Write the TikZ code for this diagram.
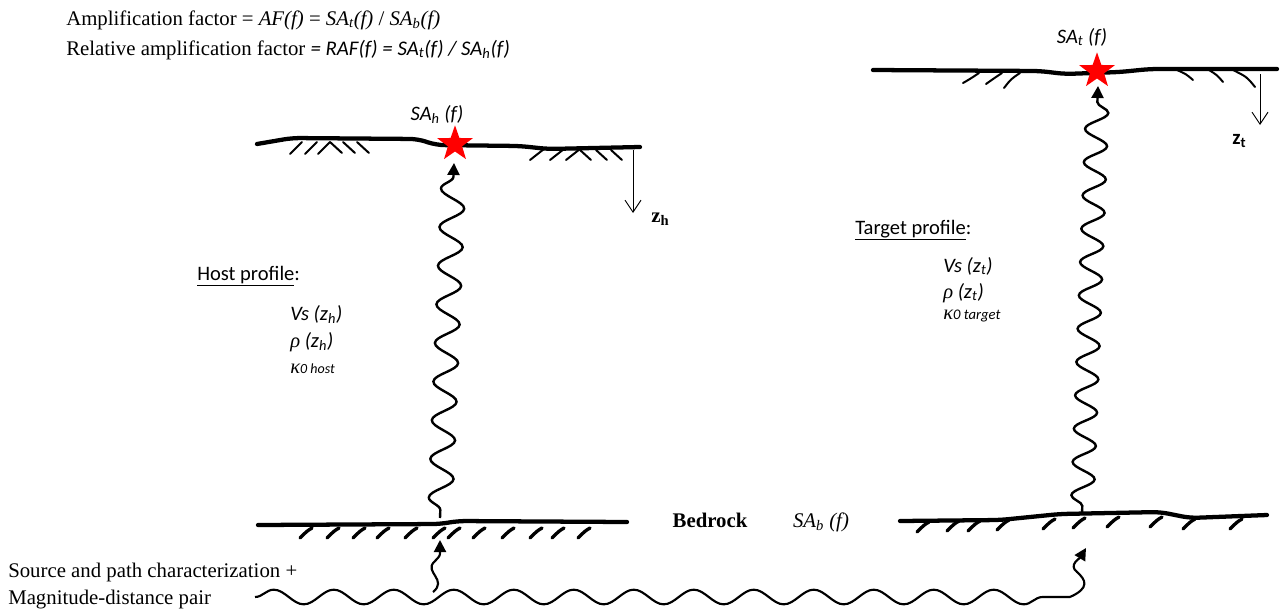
\documentclass[tikz,border=0pt]{standalone}
\usepackage{fontspec}
\setmainfont{Liberation Serif}
\newfontfamily\calfont{Carlito}
\usetikzlibrary{decorations.pathmorphing, shapes.geometric, arrows.meta}
\tikzset{
  ground/.style={line width=3.2pt, line cap=round, line join=round, rounded corners=6pt},
  shatch/.style={line width=1.5pt, line cap=round},
  bhatch/.style={line width=2.5pt, line cap=round},
  wavy/.style={line width=1.8pt, decorate},
  redstar/.style={star, star points=5, star point ratio=2.5, fill=red, draw=none, minimum size=28pt, inner sep=0pt},
  depth/.style={line width=0.7pt, -{Straight Barb[length=9pt, width=12pt, line width=0.7pt]}},
  tip/.style={-{Triangle[length=9pt, width=9pt]}},
  txt/.style={inner sep=0pt, font=\fontsize{15.6}{18}\selectfont},
  cal/.style={inner sep=0pt, font=\fontsize{15.4}{18}\selectfont\calfont\itshape},
}
\begin{document}
\begin{tikzpicture}[x=0.75pt, y=-0.75pt]
\useasboundingbox (0,0) rectangle (1282,615);

% top texts
\node[txt, anchor=base west] (l1) at (66,25) {Amplification factor = \textit{AF(f)} = \textit{SA\textsubscript{t}(f)} / \textit{SA\textsubscript{b}(f)}};
\node[txt, anchor=base west] (l2) at (66,55) {Relative amplification factor {\calfont\itshape = RAF(f) = SA\textsubscript{t}(f) / SA\textsubscript{h}(f)}};

% host surface
\draw[ground] (257,144) -- (292,138) -- (418,139) -- (436,145) -- (520,146) -- (548,149) -- (640,147);
\foreach \a in {290,305,318}{\draw[shatch] (\a,154) -- (\a+12,142);}
\foreach \a in {330,343,357}{\draw[shatch] (\a,142) -- (\a+12,153);}
\foreach \a in {530,550,566}{\draw[shatch] (\a,160) -- (\a+14,149);}
\foreach \a in {580,596,611}{\draw[shatch] (\a,150) -- (\a+11,160);}
\node[redstar] (hstar) at (455,144) {};
\node[cal, anchor=base] (sah) at (437,120) {SA\textsubscript{h} (f)};
\coordinate (zh1) at (633,150);
\coordinate (zh2) at (633,213);
\draw[depth] (zh1) -- (zh2);
\node[txt, anchor=west] (zhl) at (651,219) {\textbf{z\textsubscript{h}}};

% target surface
\draw[ground] (873,70) -- (1040,71) -- (1065,74) -- (1120,72) -- (1150,69) -- (1277,69);
\foreach \a/\b in {963/83, 986/84, 1004/88}{\draw[shatch] (\a,\b) .. controls (\a+7,79) .. (\a+16,73);}
\draw[shatch] (1177,70) .. controls (1186,74) .. (1193,80);
\draw[shatch] (1209,70) .. controls (1217,75) .. (1223,82);
\draw[shatch] (1233,70) .. controls (1247,77) .. (1255,87);
\node[redstar] (tstar) at (1097,71) {};
\node[cal, anchor=base] (sat) at (1082,43) {SA\textsubscript{t} (f)};
\coordinate (zt1) at (1260,74);
\coordinate (zt2) at (1260,125);
\draw[depth] (zt1) -- (zt2);
\node[txt, anchor=west] (ztl) at (1232,141) {\calfont\bfseries z\textsubscript{t}};

% profiles
\node[cal, font=\fontsize{15.4}{18}\selectfont\calfont, anchor=base west] (hp) at (197,280) {\underline{Host profile}:};
\node[cal, anchor=base west] (hv) at (290,320) {Vs (z\textsubscript{h})};
\node[cal, anchor=base west] (hr) at (290,347) {{\rmfamily ρ} (z\textsubscript{h})};
\node[cal, anchor=base west] (hk) at (290,373) {{\rmfamily κ}{\fontsize{10.5}{12}\selectfont 0 host}};

\node[cal, font=\fontsize{15.4}{18}\selectfont\calfont, anchor=base west] (tp) at (855,234) {\underline{Target profile}:};
\node[cal, anchor=base west] (tv) at (943,272) {Vs (z\textsubscript{t})};
\node[cal, anchor=base west] (tr) at (943,298) {{\rmfamily ρ} (z\textsubscript{t})};
\node[cal, anchor=base west] (tk) at (943,319) {{\rmfamily κ}{\fontsize{11}{12}\selectfont 0 target}};

% bedrock lines
\draw[ground] (258,525) -- (440,524) -- (458,521) -- (627,522);
\foreach \a in {300,327,353,377,405,433,448,473,502,530,552,578}{\draw[bhatch] (\a,538) .. controls (\a+7,531) .. (\a+12,528);}
\draw[ground] (900,521) -- (1000,520) -- (1060,514) -- (1160,512) -- (1190,518) -- (1267,515);
\foreach \a/\b in {917/532, 947/531, 968/531, 997/530, 1043/529, 1073/528, 1107/527, 1150/527, 1183/529, 1230/529}{\draw[bhatch] (\a,\b) .. controls (\a+7,\b-7) .. (\a+12,\b-10);}
\node[txt, anchor=base] (bed) at (710,527) {\textbf{Bedrock}};
\node[txt, anchor=base] (sab) at (821,527) {\textit{SA\textsubscript{b} (f)}};

% vertical wave paths
\coordinate (hb) at (440,518);
\coordinate (ht) at (454,163);
\draw[wavy, tip, decoration={snake, amplitude=9pt, segment length=29pt, pre length=6pt, post length=8pt}] (hb) -- (ht);
\coordinate (tb) at (1082,514);
\coordinate (tt) at (1098,86);
\draw[wavy, tip, decoration={snake, amplitude=8.5pt, segment length=25pt, pre length=6pt, post length=8pt}] (tb) -- (tt);

% source wave
\coordinate (w0) at (255,597);
\coordinate (w1) at (1070,597);
\draw[line width=1.6pt, decorate, decoration={snake, amplitude=5.5pt, segment length=45pt}] (w0) -- (w1);
\coordinate (hl0) at (433,592);
\coordinate (hl1) at (440,540);
\draw[line width=1.6pt, tip] (hl0) .. controls (448,580) and (424,572) .. (434,562) .. controls (440,556) .. (hl1);
\coordinate (tl1) at (1086,548);
\draw[line width=1.6pt, tip] (w1) .. controls (1090,588) and (1086,580) .. (1077,572) .. controls (1068,565) and (1080,558) .. (tl1);

% source text
\node[txt, anchor=base west] (s1) at (8,577) {Source and path characterization +};
\node[txt, anchor=base west] (s2) at (8,604) {Magnitude-distance pair};
\end{tikzpicture}
\end{document}
